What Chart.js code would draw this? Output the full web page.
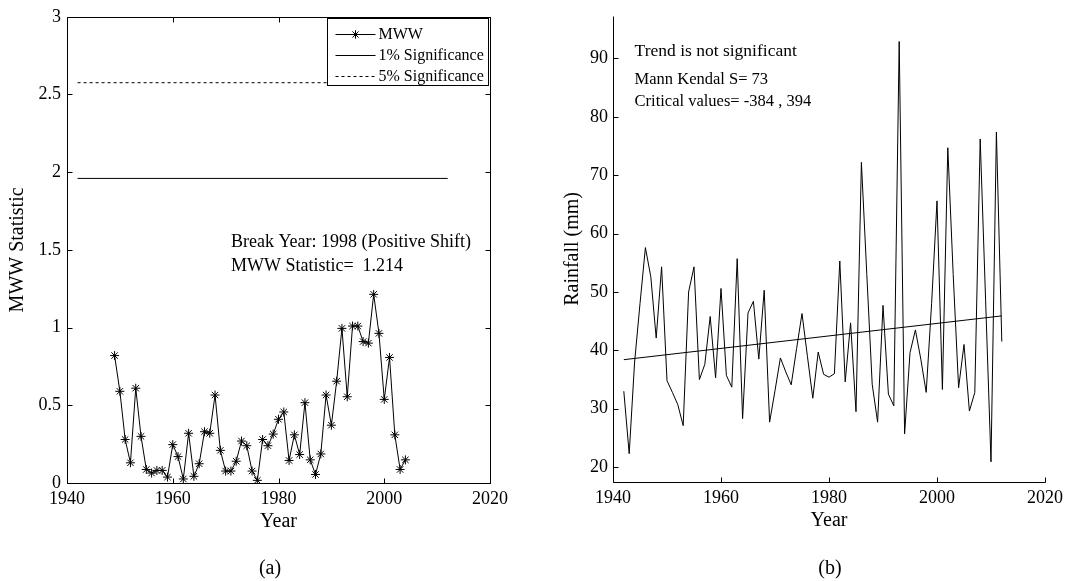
<!DOCTYPE html>
<html>
<head>
<meta charset="utf-8">
<script src="https://cdn.jsdelivr.net/npm/chart.js@4.4.0/dist/chart.umd.min.js"></script>
<style>
html,body{margin:0;padding:0;background:#fff;width:1069px;height:581px;overflow:hidden;}
.pane{position:absolute;top:0;height:581px;}
#pa{left:0;width:535px;}
#pb{left:535px;width:534px;}
.cap{position:absolute;top:553px;width:60px;text-align:center;font-family:'Liberation Serif','Times New Roman',serif;font-size:20px;line-height:28px;color:#000;}
</style>
</head>
<body>
<div class="pane" id="pa"><canvas id="ca" width="535" height="581"></canvas></div>
<div class="pane" id="pb"><canvas id="cb" width="534" height="581"></canvas></div>
<div class="cap" style="left:240px;">(a)</div>
<div class="cap" style="left:800px;">(b)</div>
<script>
// ---------- Panel (a): Mann-Whitney-Wilcoxon statistic ----------
const mwwYears = [1949,1950,1951,1952,1953,1954,1955,1956,1957,1958,1959,1960,1961,1962,1963,1964,1965,1966,1967,1968,
  1969,1970,1971,1972,1973,1974,1975,1976,1977,1978,1979,1980,1981,1982,1983,1984,1985,1986,1987,1988,
  1989,1990,1991,1992,1993,1994,1995,1996,1997,1998,1999,2000,2001,2002,2003,2004];
const mwwValues = [0.82,0.59,0.28,0.13,0.61,0.30,0.087,0.064,0.081,0.081,0.038,0.247,0.17,0.026,0.32,0.043,0.124,0.33,0.32,0.566,
  0.21,0.077,0.077,0.14,0.27,0.24,0.077,0.017,0.28,0.24,0.315,0.41,0.457,0.145,0.31,0.183,0.517,0.149,0.055,0.187,
  0.566,0.372,0.655,0.995,0.555,1.01,1.01,0.91,0.90,1.214,0.963,0.538,0.808,0.31,0.087,0.149];
const sigYears = [1942, 2012];
const sig1Values = [1.96, 1.96];
const sig5Values = [2.576, 2.576];
const mwwXTicks = [1940, 1960, 1980, 2000, 2020];
const mwwYTicks = [0, 0.5, 1, 1.5, 2, 2.5, 3];
const mwwLegend = ['MWW', '1% Significance', '5% Significance'];
const mwwNotes = ['Break Year: 1998 (Positive Shift)', 'MWW Statistic=  1.214'];

// ---------- Panel (b): Rainfall with trend ----------
const rainYears = [1942,1943,1944,1945,1946,1947,1948,1949,1950,1951,1952,1953,1954,1955,1956,1957,1958,1959,1960,1961,
  1962,1963,1964,1965,1966,1967,1968,1969,1970,1971,1972,1973,1974,1975,1976,1977,1978,1979,1980,1981,
  1982,1983,1984,1985,1986,1987,1988,1989,1990,1991,1992,1993,1994,1995,1996,1997,1998,1999,2000,2001,
  2002,2003,2004,2005,2006,2007,2008,2009,2010,2011,2012];
const rainValues = [33.0,22.3,38.0,48.0,57.6,52.6,42.1,54.3,34.8,32.8,30.7,27.1,50.0,54.3,35.0,37.6,45.8,35.3,50.6,35.7,
  33.7,55.7,28.3,46.4,48.4,38.5,50.3,27.7,33.1,38.7,36.3,34.1,40.3,46.3,39.0,31.8,39.7,35.9,35.4,36.0,
  55.3,34.6,44.7,29.5,72.2,53.0,34.2,27.7,47.7,32.5,30.5,92.9,25.7,39.6,43.5,38.5,32.8,48.0,65.6,33.3,
  74.7,53.0,33.6,41.0,29.6,32.8,76.2,48.6,20.9,77.4,41.5];
const trendYears = [1942, 2012];
const trendValues = [38.4, 45.9];
const rainXTicks = [1940, 1960, 1980, 2000, 2020];
const rainYTicks = [20, 30, 40, 50, 60, 70, 80, 90];
const rainNotes = ['Trend is not significant', 'Mann Kendal S= 73', 'Critical values= -384 , 394'];

const SERIF = "'Liberation Serif','Times New Roman',serif";
Chart.defaults.font.family = SERIF;
Chart.defaults.color = '#000';

const pts = (xs, ys) => xs.map((x, i) => ({x: x, y: ys[i]}));
const fixTicks = list => scale => { scale.ticks = list.map(v => ({value: v})); };

// draws Matlab style axes: inward ticks, axis lines, optional box
const matlabAxes = {
  id: 'matlabAxes',
  afterDatasetsDraw(chart, args, opts) {
    const {ctx, chartArea: ca, scales: {x, y}} = chart;
    const L = 5;
    ctx.save();
    ctx.strokeStyle = '#000';
    ctx.lineWidth = 1;
    ctx.beginPath();
    const l = Math.round(ca.left) + 0.5, r = Math.round(ca.right) + 0.5;
    const t = Math.round(ca.top) + 0.5, b = Math.round(ca.bottom) + 0.5;
    ctx.moveTo(l, t); ctx.lineTo(l, b); ctx.lineTo(r, b);
    if (opts.box) { ctx.moveTo(l, t); ctx.lineTo(r, t); ctx.lineTo(r, b); }
    x.ticks.forEach(tk => {
      const px = Math.round(x.getPixelForValue(tk.value)) + 0.5;
      ctx.moveTo(px, b); ctx.lineTo(px, b - L);
      if (opts.box) { ctx.moveTo(px, t); ctx.lineTo(px, t + L); }
    });
    y.ticks.forEach(tk => {
      const py = Math.round(y.getPixelForValue(tk.value)) + 0.5;
      ctx.moveTo(l, py); ctx.lineTo(l + L, py);
      if (opts.box) { ctx.moveTo(r, py); ctx.lineTo(r - L, py); }
    });
    ctx.stroke();
    ctx.restore();
  }
};

// text notes placed in data coordinates (like Matlab text())
const notesPlugin = {
  id: 'notes',
  afterDatasetsDraw(chart, args, opts) {
    if (!opts.items) return;
    const {ctx, scales: {x, y}} = chart;
    ctx.save();
    ctx.fillStyle = '#000';
    ctx.textAlign = 'left';
    ctx.textBaseline = 'middle';
    opts.items.forEach(it => {
      ctx.font = it.size + 'px ' + SERIF;
      ctx.fillText(it.text, x.getPixelForValue(it.x), y.getPixelForValue(it.y));
    });
    ctx.restore();
  }
};

// Matlab style boxed legend in upper right corner
const boxLegend = {
  id: 'boxLegend',
  afterDatasetsDraw(chart, args, opts) {
    if (!opts.show) return;
    const {ctx, chartArea: ca} = chart;
    const bx = Math.round(ca.right - 163) + 0.5, by = Math.round(ca.top + 1) + 0.5;
    const bw = 161, bh = 67;
    ctx.save();
    ctx.fillStyle = '#fff';
    ctx.fillRect(bx, by, bw, bh);
    ctx.strokeStyle = '#000';
    ctx.lineWidth = 1;
    ctx.strokeRect(bx, by, bw, bh);
    ctx.font = '16px ' + SERIF;
    ctx.textAlign = 'left';
    ctx.textBaseline = 'middle';
    const rows = [by + 15.5, by + 36.5, by + 57.5];
    chart.data.datasets.forEach((ds, i) => {
      const yy = Math.round(rows[i]) + 0.5;
      ctx.beginPath();
      ctx.setLineDash(ds.borderDash || []);
      ctx.moveTo(bx + 8, yy); ctx.lineTo(bx + 48, yy);
      ctx.stroke();
      ctx.setLineDash([]);
      if (ds.pointRadius > 0) {
        Chart.helpers.drawPoint(ctx, {pointStyle: 'star', radius: 4, borderWidth: 1, rotation: 0}, bx + 28, yy);
        ctx.stroke();
      }
      ctx.fillStyle = '#000';
      ctx.fillText(ds.label, bx + 51, yy);
    });
    ctx.restore();
  }
};

Chart.register(matlabAxes, notesPlugin, boxLegend);

const tickFont = {size: 18, family: SERIF};
const titleFont = {size: 20, family: SERIF};

new Chart(document.getElementById('ca'), {
  type: 'line',
  data: {
    datasets: [
      {label: mwwLegend[0], data: pts(mwwYears, mwwValues), borderColor: '#000', borderWidth: 1,
       pointStyle: 'star', pointRadius: 4.5, pointBorderColor: '#000', pointBorderWidth: 1, tension: 0},
      {label: mwwLegend[1], data: pts(sigYears, sig1Values), borderColor: '#000', borderWidth: 1, pointRadius: 0},
      {label: mwwLegend[2], data: pts(sigYears, sig5Values), borderColor: '#000', borderWidth: 1, borderDash: [3, 3], pointRadius: 0}
    ]
  },
  options: {
    responsive: false, animation: false, devicePixelRatio: 1,
    layout: {padding: {left: 0, top: 12, right: 45, bottom: 0}},
    scales: {
      x: {type: 'linear', min: 1940, max: 2020,
          afterBuildTicks: fixTicks(mwwXTicks),
          afterFit: s => { s.height = 98; },
          grid: {display: false, drawTicks: false}, border: {display: false},
          ticks: {font: tickFont, color: '#000', padding: 5, autoSkip: false, maxRotation: 0, callback: v => String(v)},
          title: {display: true, text: 'Year', font: titleFont, color: '#000', padding: {top: 0, bottom: 47}}},
      y: {type: 'linear', min: 0, max: 3,
          afterBuildTicks: fixTicks(mwwYTicks),
          afterFit: s => { s.width = 67; },
          grid: {display: false, drawTicks: false}, border: {display: false},
          ticks: {font: tickFont, color: '#000', padding: 6, autoSkip: false, callback: v => String(v)},
          title: {display: true, text: 'MWW Statistic', font: titleFont, color: '#000', padding: {top: 6, bottom: 0}}}
    },
    plugins: {
      legend: {display: false}, tooltip: {enabled: false},
      matlabAxes: {box: true},
      boxLegend: {show: true},
      notes: {items: [{text: mwwNotes[0], x: 1971, y: 1.55, size: 18}, {text: mwwNotes[1], x: 1971, y: 1.395, size: 18}]}
    }
  }
});

new Chart(document.getElementById('cb'), {
  type: 'line',
  data: {
    datasets: [
      {label: 'Rainfall', data: pts(rainYears, rainValues), borderColor: '#000', borderWidth: 1, pointRadius: 0, tension: 0},
      {label: 'Trend', data: pts(trendYears, trendValues), borderColor: '#000', borderWidth: 1, pointRadius: 0}
    ]
  },
  options: {
    responsive: false, animation: false, devicePixelRatio: 1,
    layout: {padding: {left: 0, top: 12, right: 24, bottom: 0}},
    scales: {
      x: {type: 'linear', min: 1940, max: 2020,
          afterBuildTicks: fixTicks(rainXTicks),
          afterFit: s => { s.height = 99; },
          grid: {display: false, drawTicks: false}, border: {display: false},
          ticks: {font: tickFont, color: '#000', padding: 5, autoSkip: false, maxRotation: 0, callback: v => String(v)},
          title: {display: true, text: 'Year', font: titleFont, color: '#000', padding: {top: 0, bottom: 48}}},
      y: {type: 'linear', min: 17.45, max: 97.3,
          afterBuildTicks: fixTicks(rainYTicks),
          afterFit: s => { s.width = 78; },
          grid: {display: false, drawTicks: false}, border: {display: false},
          ticks: {font: tickFont, color: '#000', padding: 5, autoSkip: false, callback: v => String(v)},
          title: {display: true, text: 'Rainfall (mm)', font: titleFont, color: '#000', padding: {top: 26, bottom: 0}}}
    },
    plugins: {
      legend: {display: false}, tooltip: {enabled: false},
      matlabAxes: {box: false},
      boxLegend: {show: false},
      notes: {items: [{text: rainNotes[0], x: 1944, y: 91.2, size: 17.5}, {text: rainNotes[1], x: 1944, y: 86.3, size: 16.5}, {text: rainNotes[2], x: 1944, y: 82.6, size: 16.5}]}
    }
  }
});
</script>
</body>
</html>
